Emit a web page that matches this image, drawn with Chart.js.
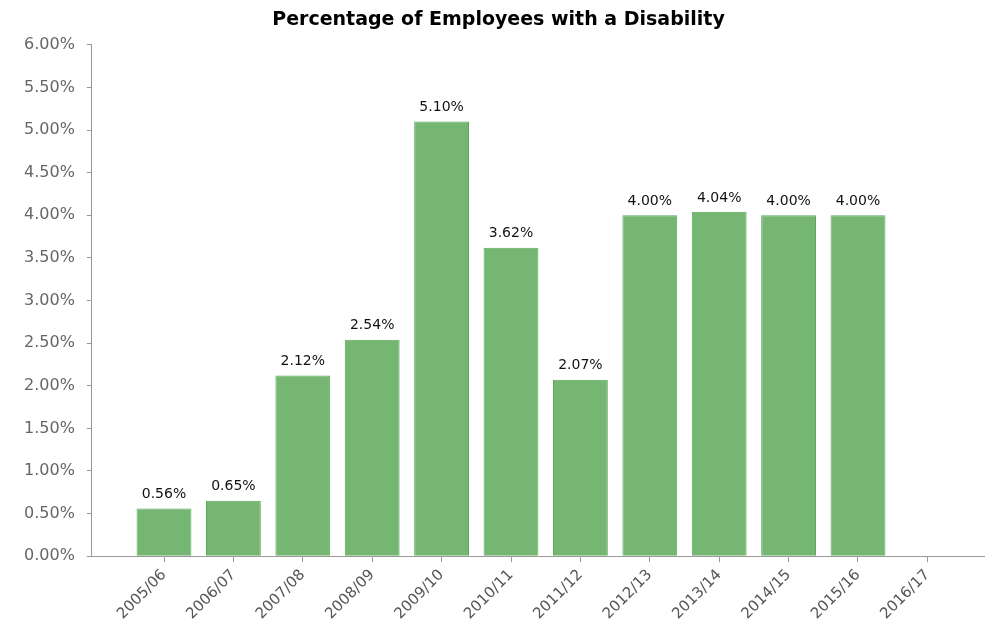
<!DOCTYPE html>
<html>
<head>
<meta charset="utf-8">
<script src="https://cdn.jsdelivr.net/npm/chart.js@4/dist/chart.umd.min.js"></script>
<style>
	html, body { margin: 0; padding: 0; background: #fff; }
	#wrap { width: 985px; height: 635px; }
</style>
</head>
<body>
<div id="wrap"><canvas id="bar-chart"></canvas></div>
<script>
// Data.
var years = ["2005/06","2006/07","2007/08","2008/09","2009/10","2010/11","2011/12","2012/13","2013/14","2014/15","2015/16","2016/17"];
var percents = [0.56, 0.65, 2.12, 2.54, 5.10, 3.62, 2.07, 4.00, 4.04, 4.00, 4.00];
var yTicks = [0, 0.5, 1, 1.5, 2, 2.5, 3, 3.5, 4, 4.5, 5, 5.5, 6];

var points = percents.map(function (v, i) { return { x: i + 1, y: v }; });

// Value labels above bars.
var valueLabels = {
	id: 'valueLabels',
	afterDatasetsDraw: function (chart) {
		var ctx = chart.ctx;
		var meta = chart.getDatasetMeta(0);
		ctx.save();
		ctx.font = '14px "DejaVu Sans"';
		ctx.fillStyle = '#111';
		ctx.textAlign = 'center';
		ctx.textBaseline = 'bottom';
		meta.data.forEach(function (bar, i) {
			ctx.fillText(percents[i].toFixed(2) + '%', bar.x, bar.y - 7);
		});
		ctx.restore();
	}
};

new Chart(document.getElementById("bar-chart"), {
	type: 'bar',
	data: {
		datasets: [{
			label: 'Percentage of Employees with a Disability',
			data: points,
			backgroundColor: 'rgb(117,182,115)',
			borderColor: 'rgb(92,168,90)',
			borderWidth: 1,
			categoryPercentage: 1,
			barPercentage: 0.79
		}]
	},
	options: {
		responsive: true,
		maintainAspectRatio: false,
		animation: false,
		layout: { padding: { left: 12, right: 0, top: 0, bottom: 8 } },
		plugins: {
			legend: { display: false },
			tooltip: { enabled: false },
			title: {
				display: true,
				text: 'Percentage of Employees with a Disability',
				color: '#000',
				font: { family: '"DejaVu Sans"', size: 19, weight: 'bold' },
				padding: { top: 9, bottom: 13 }
			}
		},
		scales: {
			x: {
				type: 'linear',
				offset: false,
				min: -0.04,
				max: 12.83,
				grid: {
					display: true,
					offset: false,
					drawOnChartArea: false,
					tickLength: 6,
					color: function (c) { return c.tick && c.tick.value >= 1 ? '#999' : 'rgba(0,0,0,0)'; }
				},
				border: { display: true, color: '#999' },
				afterBuildTicks: function (axis) {
					axis.ticks = years.map(function (y, i) { return { value: i + 1 }; });
				},
				ticks: {
					autoSkip: false,
					maxRotation: 45,
					minRotation: 45,
					color: '#555',
					padding: 4,
					font: { family: '"DejaVu Sans"', size: 15 },
					callback: function (value) { return years[value - 1] || ''; }
				}
			},
			y: {
				min: 0,
				max: 6,
				grid: {
					display: true,
					drawOnChartArea: false,
					tickLength: 5,
					color: '#999'
				},
				border: { display: true, color: '#999' },
				afterBuildTicks: function (axis) {
					axis.ticks = yTicks.map(function (v) { return { value: v }; });
				},
				ticks: {
					color: '#666',
					padding: 12,
					font: { family: '"DejaVu Sans"', size: 16 },
					callback: function (value) { return value.toFixed(2) + '%'; }
				}
			}
		}
	},
	plugins: [valueLabels]
});
</script>
</body>
</html>
